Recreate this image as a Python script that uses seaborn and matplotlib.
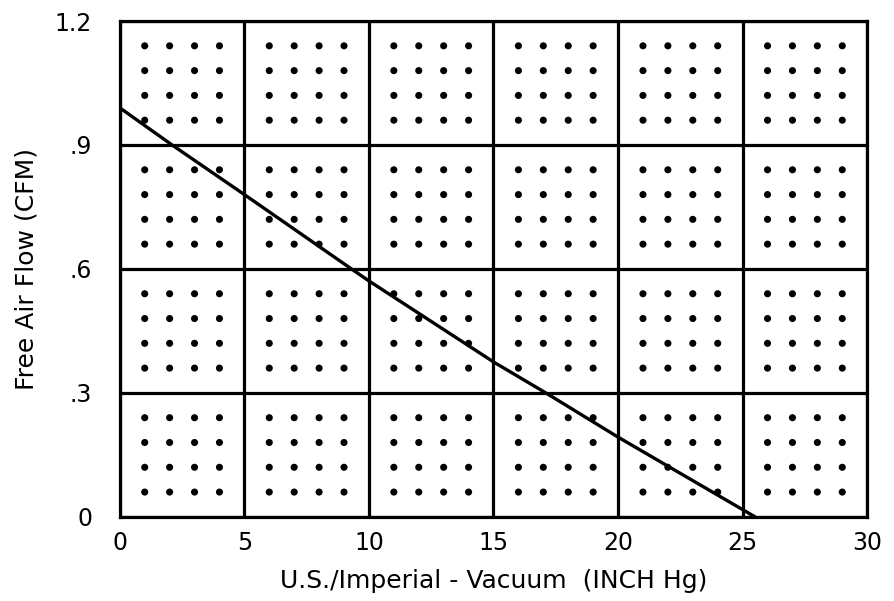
import numpy as np
import pandas as pd
import seaborn as sns
from matplotlib import pyplot as plt

# curva de vazão
vacuo = [0, 2.1, 5, 9.3, 10, 15, 17.1, 20, 25.5]
vazao = [0.99, 0.90, 0.78, 0.60, 0.571, 0.375, 0.30, 0.193, 0.0]

x_ticks = [0, 5, 10, 15, 20, 25, 30]
x_labels = ['0', '5', '10', '15', '20', '25', '30']
y_ticks = [0, 0.3, 0.6, 0.9, 1.2]
y_labels = ['0', '.3', '.6', '.9', '1.2']

# pontos da grade menor: 4 x 4 dentro de cada célula
dots_x = [x0 + k * 1.0 for x0 in x_ticks[:-1] for k in (1, 2, 3, 4)]
dots_y = [y0 + k * 0.06 for y0 in y_ticks[:-1] for k in (1, 2, 3, 4)]
gx, gy = np.meshgrid(dots_x, dots_y)
dots = pd.DataFrame({'x': gx.ravel(), 'y': gy.ravel()})
curva = pd.DataFrame({'vacuo': vacuo, 'vazao': vazao})

sns.set_style('white')
plt.rcParams['font.family'] = ['DejaVu Sans']
plt.rcParams['text.color'] = 'black'
plt.rcParams['axes.labelcolor'] = 'black'

fig = plt.figure(figsize=(8.94, 6.01), dpi=100)
ax = fig.add_axes([0.134, 0.140, 0.836, 0.825])

sns.scatterplot(data=dots, x='x', y='y', ax=ax, color='black', s=26,
                edgecolor='none', zorder=2)
sns.lineplot(data=curva, x='vacuo', y='vazao', ax=ax, color='black',
             linewidth=2.4, zorder=3)

ax.set_xlim(0, 30)
ax.set_ylim(0, 1.2)
ax.set_xticks(x_ticks)
ax.set_xticklabels(x_labels)
ax.set_yticks(y_ticks)
ax.set_yticklabels(y_labels)
ax.grid(True, color='black', linewidth=2.3, zorder=1)
ax.set_axisbelow(True)
for s in ax.spines.values():
    s.set_color('black')
    s.set_linewidth(2.3)
ax.tick_params(axis='both', length=0, labelsize=17, colors='black')
ax.tick_params(axis='x', pad=10)
ax.tick_params(axis='y', pad=20)

ax.set_xlabel('U.S./Imperial - Vacuum  (INCH Hg)', fontsize=18, labelpad=10)
ax.set_ylabel('Free Air Flow (CFM)', fontsize=18, labelpad=12)

fig.savefig('out.png', dpi=100)
